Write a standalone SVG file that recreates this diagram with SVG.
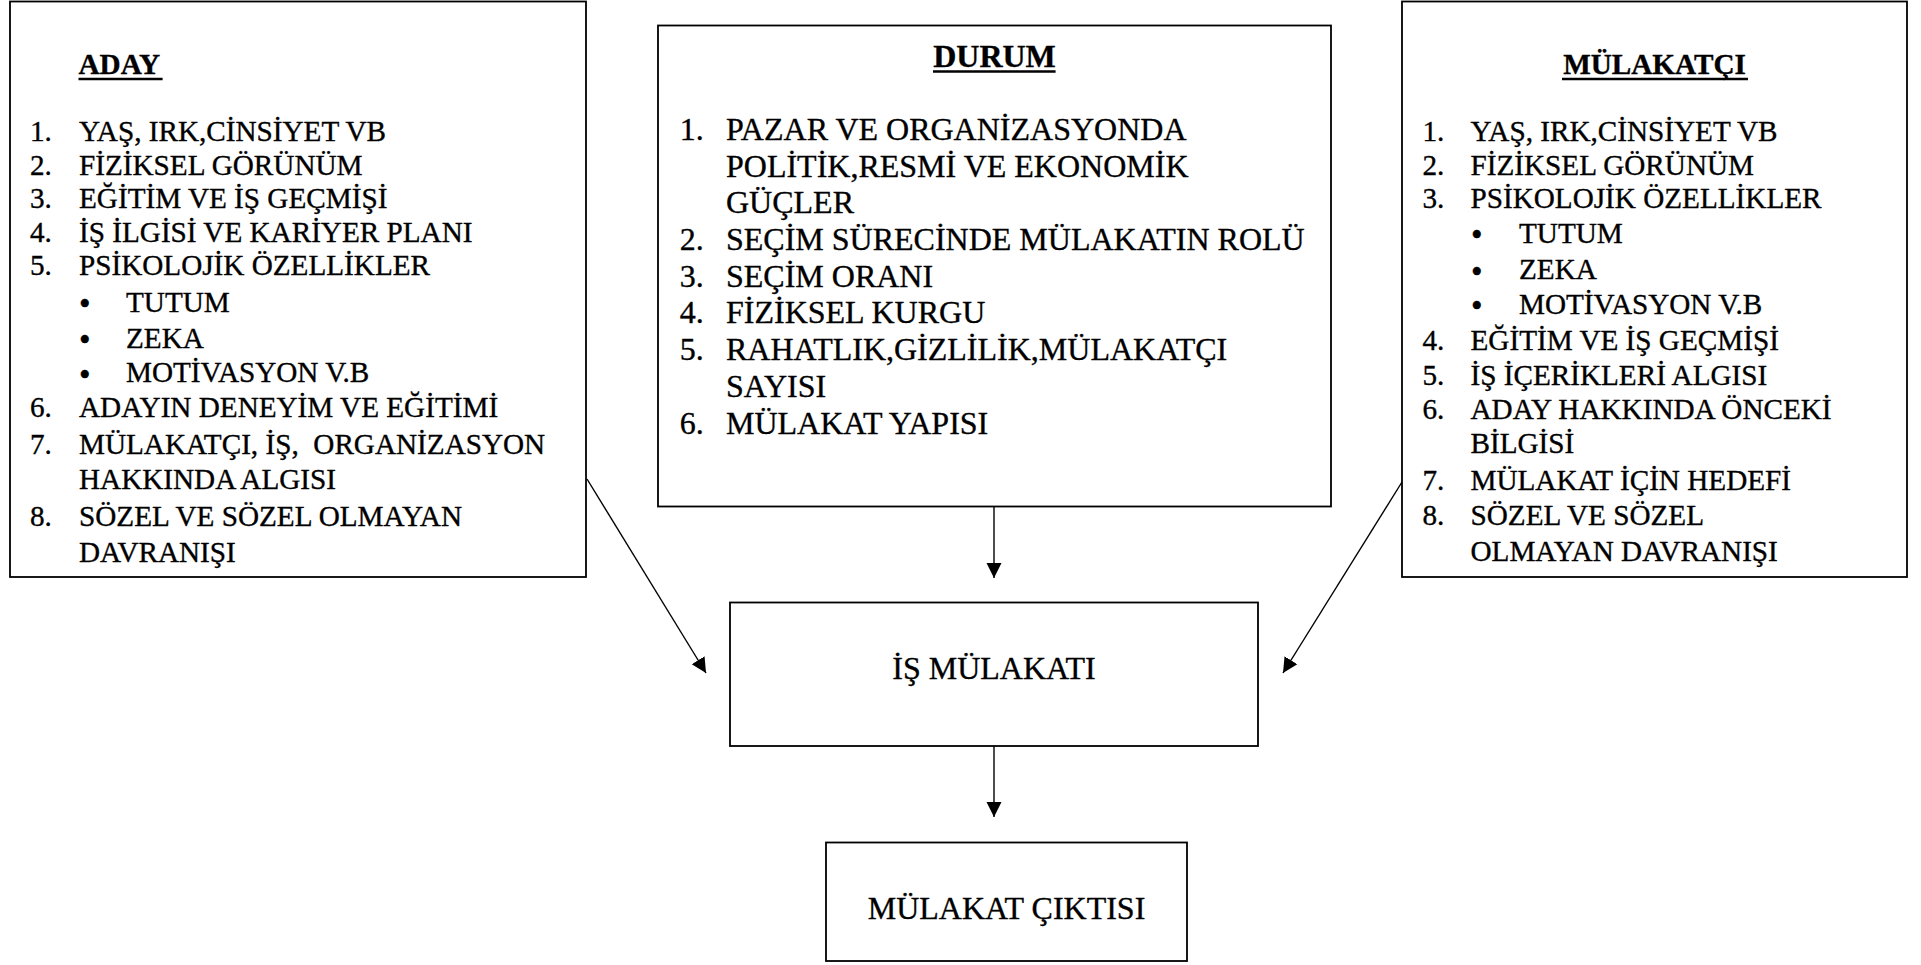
<svg xmlns="http://www.w3.org/2000/svg" width="1921" height="965" viewBox="0 0 1921 965">
<defs>
<style>
text{font-family:'Liberation Serif','Times New Roman',serif;fill:#000;stroke:#000;stroke-width:0.35}
.box{fill:#fff;stroke:#000;stroke-width:1.8}
.t{font-size:29.2px}
.d{font-size:32px}
.h{font-weight:bold}
.c{text-anchor:middle}
.b{font-size:33px}
.ul{stroke:#000;stroke-width:2.4}
.con{stroke:#000;stroke-width:1.4;fill:none;marker-end:url(#ah)}
.pre{white-space:pre}
</style>
<marker id="ah" markerUnits="userSpaceOnUse" markerWidth="16" markerHeight="16" viewBox="0 0 16 15" refX="15" refY="7.5" orient="auto">
<path d="M0,0 L15,7.5 L0,15 z" fill="#000"/>
</marker>
</defs>

<g id="aday">
<rect class="box" x="10" y="1.5" width="576" height="575.5"/>
<text class="t h" x="78.5" y="74">ADAY</text>
<line class="ul" x1="78.5" y1="79" x2="162.6" y2="79"/>
<text class="t" x="30" y="140.7">1.</text><text class="t" x="79" y="140.7">YAŞ, IRK,CİNSİYET VB</text>
<text class="t" x="30" y="175">2.</text><text class="t" x="79" y="175">FİZİKSEL GÖRÜNÜM</text>
<text class="t" x="30" y="208.3">3.</text><text class="t" x="79" y="208.3">EĞİTİM VE İŞ GEÇMİŞİ</text>
<text class="t" x="30" y="241.7">4.</text><text class="t" x="79" y="241.7">İŞ İLGİSİ VE KARİYER PLANI</text>
<text class="t" x="30" y="275">5.</text><text class="t" x="79" y="275">PSİKOLOJİK ÖZELLİKLER</text>
<text class="b" x="79" y="315.3">•</text><text class="t" x="126" y="311.7">TUTUM</text>
<text class="b" x="79" y="351.3">•</text><text class="t" x="126" y="347.7">ZEKA</text>
<text class="b" x="79" y="385.9">•</text><text class="t" x="126" y="382.3">MOTİVASYON V.B</text>
<text class="t" x="30" y="416.7">6.</text><text class="t" x="79" y="416.7">ADAYIN DENEYİM VE EĞİTİMİ</text>
<text class="t" x="30" y="454">7.</text><text class="t pre" x="79" y="454">MÜLAKATÇI, İŞ,  ORGANİZASYON</text>
<text class="t" x="79" y="489.3">HAKKINDA ALGISI</text>
<text class="t" x="30" y="526">8.</text><text class="t" x="79" y="526">SÖZEL VE SÖZEL OLMAYAN</text>
<text class="t" x="79" y="561.7">DAVRANIŞI</text>
</g>

<g id="durum">
<rect class="box" x="658" y="25.5" width="673" height="481"/>
<text class="d h c" x="994.5" y="66.7">DURUM</text>
<line class="ul" x1="933" y1="71.5" x2="1055.6" y2="71.5"/>
<text class="d" x="679.7" y="140">1.</text><text class="d" x="726" y="140">PAZAR VE ORGANİZASYONDA</text>
<text class="d" x="726" y="176.7">POLİTİK,RESMİ VE EKONOMİK</text>
<text class="d" x="726" y="213.3">GÜÇLER</text>
<text class="d" x="679.7" y="250">2.</text><text class="d" x="726" y="250">SEÇİM SÜRECİNDE MÜLAKATIN ROLÜ</text>
<text class="d" x="679.7" y="286.7">3.</text><text class="d" x="726" y="286.7">SEÇİM ORANI</text>
<text class="d" x="679.7" y="323.3">4.</text><text class="d" x="726" y="323.3">FİZİKSEL KURGU</text>
<text class="d" x="679.7" y="360">5.</text><text class="d" x="726" y="360">RAHATLIK,GİZLİLİK,MÜLAKATÇI</text>
<text class="d" x="726" y="397.3">SAYISI</text>
<text class="d" x="679.7" y="434.3">6.</text><text class="d" x="726" y="434.3">MÜLAKAT YAPISI</text>
</g>

<g id="mulakatci">
<rect class="box" x="1402" y="1.5" width="505" height="575.5"/>
<text class="t h c" x="1654.5" y="74">MÜLAKATÇI</text>
<line class="ul" x1="1562" y1="79" x2="1748" y2="79"/>
<text class="t" x="1422.5" y="140.7">1.</text><text class="t" x="1470.5" y="140.7">YAŞ, IRK,CİNSİYET VB</text>
<text class="t" x="1422.5" y="174.5">2.</text><text class="t" x="1470.5" y="174.5">FİZİKSEL GÖRÜNÜM</text>
<text class="t" x="1422.5" y="207.8">3.</text><text class="t" x="1470.5" y="207.8">PSİKOLOJİK ÖZELLİKLER</text>
<text class="b" x="1471" y="246.3">•</text><text class="t" x="1519" y="242.7">TUTUM</text>
<text class="b" x="1471" y="282.9">•</text><text class="t" x="1519" y="279.3">ZEKA</text>
<text class="b" x="1471" y="317.1">•</text><text class="t" x="1519" y="313.5">MOTİVASYON V.B</text>
<text class="t" x="1422.5" y="350">4.</text><text class="t" x="1470.5" y="350">EĞİTİM VE İŞ GEÇMİŞİ</text>
<text class="t" x="1422.5" y="385">5.</text><text class="t" x="1470.5" y="385">İŞ İÇERİKLERİ ALGISI</text>
<text class="t" x="1422.5" y="419.3">6.</text><text class="t" x="1470.5" y="419.3">ADAY HAKKINDA ÖNCEKİ</text>
<text class="t" x="1470.5" y="453.3">BİLGİSİ</text>
<text class="t" x="1422.5" y="490">7.</text><text class="t" x="1470.5" y="490">MÜLAKAT İÇİN HEDEFİ</text>
<text class="t" x="1422.5" y="524.5">8.</text><text class="t" x="1470.5" y="524.5">SÖZEL VE SÖZEL</text>
<text class="t" x="1470.5" y="561">OLMAYAN DAVRANIŞI</text>
</g>

<g id="is-mulakati">
<rect class="box" x="730" y="602.5" width="528" height="143.5"/>
<text class="d c" x="994" y="679.3">İŞ MÜLAKATI</text>
</g>

<g id="mulakat-ciktisi">
<rect class="box" x="826" y="842.5" width="361" height="118.5"/>
<text class="d c" x="1006.5" y="919.3">MÜLAKAT ÇIKTISI</text>
</g>

<g id="connectors">
<line class="con" x1="994" y1="507" x2="994" y2="578"/>
<line class="con" x1="994" y1="746" x2="994" y2="817"/>
<line class="con" x1="587" y1="479" x2="706" y2="673"/>
<line class="con" x1="1402" y1="482" x2="1283" y2="673"/>
</g>
</svg>
